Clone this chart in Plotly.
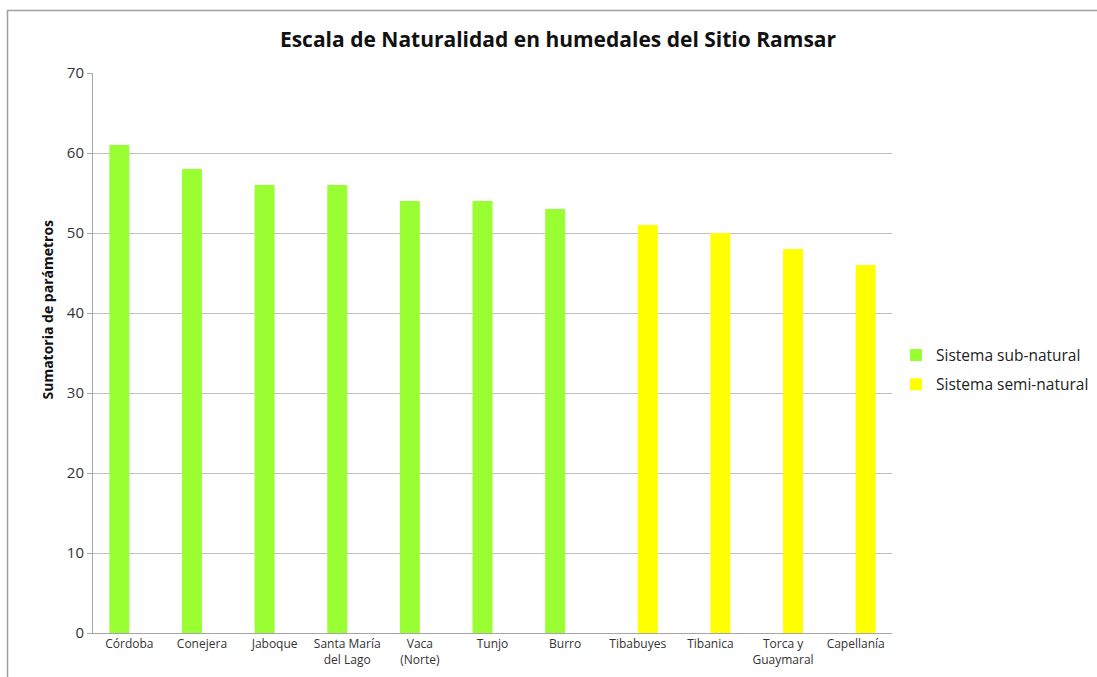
import plotly.graph_objects as go

categories = ["Córdoba", "Conejera", "Jaboque", "Santa María<br>del Lago", "Vaca<br>(Norte)",
              "Tunjo", "Burro", "Tibabuyes", "Tibanica", "Torca y<br>Guaymaral", "Capellanía"]
sub_natural = [61, 58, 56, 56, 54, 54, 53, None, None, None, None]
semi_natural = [None, None, None, None, None, None, None, 51, 50, 48, 46]
y_ticks = [0, 10, 20, 30, 40, 50, 60, 70]

FONT = "Open Sans"
fig = go.Figure()
fig.add_trace(go.Bar(x=categories, y=sub_natural, name="Sistema sub-natural",
                     legendgroup="a",
                     marker=dict(color="#99FF33", line=dict(width=0))))
fig.add_trace(go.Bar(x=categories, y=semi_natural, name="Sistema semi-natural",
                     legendgroup="b",
                     marker=dict(color="#FFFF00", line=dict(width=0))))

L, R, T, B = 93, 205, 73, 44
W, H = 1097, 677
pw, ph = W - L - R, H - T - B

def px(x):
    return (x - L) / pw

def py(y):
    return (H - B - y) / ph

fig.update_layout(
    width=W, height=H,
    margin=dict(l=L, r=R, t=T, b=B, autoexpand=False),
    paper_bgcolor="white", plot_bgcolor="white",
    barmode="group", bargap=0.45, bargroupgap=0,
    font=dict(family=FONT, color="#333333"),
    title=dict(text="<b>Escala de Naturalidad en humedales del Sitio Ramsar</b>",
               x=px(558), xanchor="center", xref="paper",
               y=1 - 40 / H, yanchor="middle",
               font=dict(size=21, color="#111111", family=FONT)),
    showlegend=True,
    legend=dict(xref="container", yref="container",
                x=896 / W, xanchor="left", y=1 - 370 / H, yanchor="middle",
                font=dict(size=15.5, color="#222222", family=FONT),
                traceorder="grouped", tracegroupgap=6,
                bgcolor="rgba(0,0,0,0)", itemwidth=30),
    xaxis=dict(showline=True, linecolor="#A6A6A6", linewidth=1, automargin=False,
               tickfont=dict(size=12, color="#333333"), ticks="",
               showgrid=False, tickangle=0),
    yaxis=dict(range=[0, 70], tickvals=y_ticks, showgrid=True, gridcolor="#BFBFBF",
               gridwidth=1, showline=True, linecolor="#A6A6A6", linewidth=1,
               ticks="outside", ticklen=5, tickcolor="#A6A6A6", automargin=False,
               tickfont=dict(size=15, color="#333333"), zeroline=False),
    annotations=[dict(text="<b>Sumatoria de parámetros</b>", textangle=-90,
                      x=px(35), y=py(310), xref="paper", yref="paper",
                      showarrow=False, font=dict(size=14, color="#111111", family=FONT))],
    shapes=[
        dict(type="line", xref="paper", yref="paper", x0=px(7), x1=px(1100),
             y0=py(10.5), y1=py(10.5), line=dict(color="#A0A0A0", width=1.5)),
        dict(type="line", xref="paper", yref="paper", x0=px(7.5), x1=px(7.5),
             y0=py(10.5), y1=py(680), line=dict(color="#A0A0A0", width=1.5)),
    ],
)

fig.write_html("out.html", config={"displayModeBar": False},
               post_script="document.body.style.margin='0px';document.body.style.overflow='hidden';")
